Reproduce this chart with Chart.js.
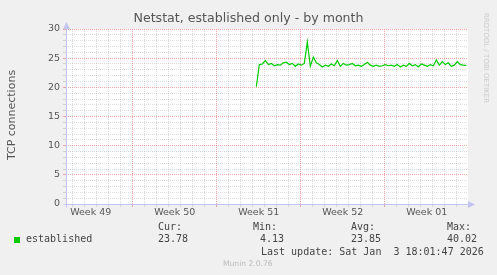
<!DOCTYPE html>
<html>
<head>
<meta charset="utf-8">
<script src="https://cdn.jsdelivr.net/npm/chart.js@4/dist/chart.umd.min.js"></script>
<style>
  html, body { margin: 0; padding: 0; background: #f0f0f0; }
  #wrap { position: relative; width: 497px; height: 275px; overflow: hidden; background: #f0f0f0; }
  #c { position: absolute; left: 0; top: 0; }
  .t { position: absolute; white-space: pre; line-height: 12px; }
  .mono { font-family: "DejaVu Sans Mono", monospace; font-size: 10px; color: #444; }
</style>
</head>
<body>
<div id="wrap">
  <canvas id="c" width="497" height="275"></canvas>
  <div class="t" style="left:0;width:497px;text-align:center;top:12px;font-family:'DejaVu Sans';font-size:12.6px;color:#555;">Netstat, established only - by month</div>
  <div class="t" style="left:12px;top:115px;font-family:'DejaVu Sans';font-size:11px;color:#555;transform:translate(-50%,-50%) rotate(-90deg);">TCP connections</div>
  <div class="t" style="left:486px;top:58px;font-family:'DejaVu Sans';font-size:7px;color:#cccccc;transform:translate(-50%,-50%) rotate(90deg);">RRDTOOL / TOBI OETIKER</div>
  <div style="position:absolute;left:14px;top:237px;width:6px;height:6px;background:#00cc00;"></div>
  <div class="t mono" style="left:26px;top:233px;">established</div>
  <div class="t mono" style="left:158px;top:221px;">Cur:</div>
  <div class="t mono" style="left:253px;top:221px;">Min:</div>
  <div class="t mono" style="left:351px;top:221px;">Avg:</div>
  <div class="t mono" style="left:447px;top:221px;">Max:</div>
  <div class="t mono" style="left:158px;top:233px;">23.78</div>
  <div class="t mono" style="left:260px;top:233px;">4.13</div>
  <div class="t mono" style="left:351px;top:233px;">23.85</div>
  <div class="t mono" style="left:447px;top:233px;">40.02</div>
  <div class="t mono" style="left:261px;top:246px;">Last update: Sat Jan  3 18:01:47 2026</div>
  <div class="t" style="left:223px;top:258px;font-family:'DejaVu Sans';font-size:7.6px;color:#bbbbbb;">Munin 2.0.76</div>
</div>
<script>
// ---- data (x in days since Mon 8 Dec 2025 00:00) ----
const weekLabels = ['Week 49', 'Week 50', 'Week 51', 'Week 52', 'Week 01'];
const weekCenters = [-3.5, 3.5, 10.5, 17.5, 24.5];
const axisMinDay = -5.56;
const axisMaxDay = 27.94;
const startDay = 10.3;
const stepDay = 0.25;
const established = [
  20.1, 23.9, 24.0, 24.6, 23.9, 24.1, 23.7, 23.9, 23.8, 24.2,
  24.3, 23.9, 24.1, 23.6, 24.0, 23.8, 24.1, 27.8, 23.6, 25.2,
  24.2, 23.9, 23.5, 23.8, 23.6, 24.0, 23.7, 24.6, 23.6, 24.1,
  23.8, 23.9, 24.1, 23.7, 23.8, 23.6, 23.9, 24.3, 23.8, 23.6,
  23.8, 23.6, 23.7, 23.9, 23.7, 23.8, 23.6, 23.9, 23.5, 23.8,
  23.6, 24.1, 23.7, 23.9, 23.5, 24.0, 23.8, 23.6, 23.9, 23.7,
  24.7, 23.8, 24.4, 23.9, 24.2, 23.6, 23.8, 24.4, 23.9, 23.8,
  23.78
];
const yMin = 0, yMax = 30;

const points = established.map((v, i) => ({ x: startDay + i * stepDay, y: v }));

const MAJOR = 'rgba(235,110,110,0.6)';
const MINOR = 'rgba(140,140,140,0.3)';
const AXIS = '#c4c4f0';

const bgPlugin = {
  id: 'bg',
  beforeDraw(chart) {
    const a = chart.chartArea, ctx = chart.ctx;
    ctx.save();
    ctx.fillStyle = '#ffffff';
    ctx.fillRect(a.left, a.top, a.right - a.left, a.bottom - a.top);
    ctx.restore();
  },
  afterDatasetsDraw(chart) {
    const a = chart.chartArea, ctx = chart.ctx;
    const L = Math.round(a.left) + 0.5, B = Math.round(a.bottom) + 0.5;
    ctx.save();
    ctx.strokeStyle = AXIS;
    ctx.lineWidth = 1;
    ctx.setLineDash([]);
    ctx.beginPath();
    ctx.moveTo(L, B + 3);
    ctx.lineTo(L, a.top - 2);
    ctx.moveTo(L - 3, B);
    ctx.lineTo(a.right + 2, B);
    ctx.stroke();
    ctx.fillStyle = AXIS;
    ctx.beginPath();
    ctx.moveTo(L - 3.5, a.top);
    ctx.lineTo(L + 3.5, a.top);
    ctx.lineTo(L, a.top - 7);
    ctx.closePath();
    ctx.fill();
    ctx.beginPath();
    ctx.moveTo(a.right, B - 3.5);
    ctx.lineTo(a.right, B + 3.5);
    ctx.lineTo(a.right + 7, B);
    ctx.closePath();
    ctx.fill();
    ctx.restore();
  }
};

const xTicks = [];
for (let d = Math.ceil(axisMinDay); d <= Math.floor(axisMaxDay); d++) xTicks.push(d);
weekCenters.forEach(c => xTicks.push(c));
xTicks.sort((a, b) => a - b);

function xGridColor(ctx) {
  const v = ctx.tick ? ctx.tick.value : null;
  if (v === null || v === undefined) return 'rgba(0,0,0,0)';
  if (!Number.isInteger(v)) return 'rgba(0,0,0,0)';
  return (((v % 7) + 7) % 7 === 0) ? MAJOR : MINOR;
}
function yGridColor(ctx) {
  const v = ctx.tick ? ctx.tick.value : null;
  if (v === null || v === undefined || v === 0) return 'rgba(0,0,0,0)';
  return v % 5 === 0 ? MAJOR : MINOR;
}

new Chart(document.getElementById('c'), {
  type: 'line',
  data: {
    datasets: [{
      label: 'established',
      data: points,
      borderColor: '#00cc00',
      backgroundColor: '#00cc00',
      borderWidth: 1.2,
      pointRadius: 0,
      tension: 0,
      fill: false
    }]
  },
  options: {
    responsive: false,
    animation: false,
    devicePixelRatio: 1,
    layout: { padding: { left: 0, top: 29, right: 29, bottom: 51 } },
    plugins: { legend: { display: false }, title: { display: false }, tooltip: { enabled: false } },
    scales: {
      x: {
        type: 'linear',
        min: axisMinDay,
        max: axisMaxDay,
        afterBuildTicks(scale) { scale.ticks = xTicks.map(v => ({ value: v })); },
        afterFit(scale) { scale.height = 20; },
        ticks: {
          autoSkip: false,
          maxRotation: 0,
          minRotation: 0,
          padding: 0,
          color: '#555',
          font: { family: 'DejaVu Sans', size: 9.5 },
          callback(v) { const k = weekCenters.indexOf(v); return k >= 0 ? weekLabels[k] : ''; }
        },
        grid: { color: xGridColor, tickColor: xGridColor, tickLength: 3, lineWidth: 1 },
        border: { display: false, dash: [1, 1] }
      },
      y: {
        min: yMin,
        max: yMax,
        afterFit(scale) { scale.width = 66; },
        ticks: {
          stepSize: 1,
          autoSkip: false,
          padding: 3,
          color: '#555',
          font: { family: 'DejaVu Sans', size: 9.5 },
          callback(v) { return v % 5 === 0 ? String(v) : ''; }
        },
        grid: { color: yGridColor, tickColor: yGridColor, tickLength: 3, lineWidth: 1 },
        border: { display: false, dash: [1, 1] }
      }
    }
  },
  plugins: [bgPlugin]
});
</script>
</body>
</html>
